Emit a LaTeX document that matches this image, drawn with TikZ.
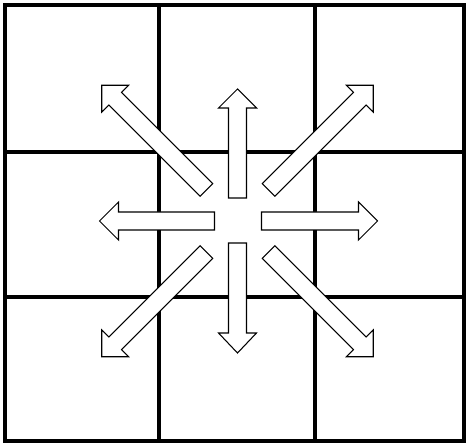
\documentclass[tikz,border=0pt]{standalone}
\usepackage{tikz}
\usetikzlibrary{calc}

\begin{document}
\begin{tikzpicture}[
  x=0.03cm,y=0.03cm,
  gridline/.style={line width=2.8pt,black},
  arrowline/.style={draw=black,fill=white,line width=0.9pt,line join=miter},
  pics/bigarrow/.style n args={3}{code={
    \draw[arrowline] (#1,-9) -- (#2,-9) -- (#2,-19) -- (#3,0)
      -- (#2,19) -- (#2,9) -- (#1,9) -- cycle;
  }}
]
  \useasboundingbox (0,0) rectangle (467,446);

  % grid
  \draw[gridline] (5,5) rectangle (464,441);
  \draw[gridline] (159,5) -- (159,441);
  \draw[gridline] (315,5) -- (315,441);
  \draw[gridline] (5,149) -- (464,149);
  \draw[gridline] (5,294) -- (464,294);

  \coordinate (mid) at (237.5,225);

  % straight arrows
  \pic (arrE) [rotate=0]   at (mid) {bigarrow={24}{121}{140}};
  \pic (arrN) [rotate=90]  at (mid) {bigarrow={23}{113}{132}};
  \pic (arrW) [rotate=180] at (mid) {bigarrow={23}{119}{138}};
  \pic (arrS) [rotate=270] at (mid) {bigarrow={22}{112}{132}};

  % diagonal arrows
  \pic (arrNE) [rotate=45]  at (mid) {bigarrow={44}{173}{192}};
  \pic (arrNW) [rotate=135] at (mid) {bigarrow={44}{173}{192}};
  \pic (arrSW) [rotate=225] at (mid) {bigarrow={44}{173}{192}};
  \pic (arrSE) [rotate=315] at (mid) {bigarrow={44}{173}{192}};
\end{tikzpicture}
\end{document}
